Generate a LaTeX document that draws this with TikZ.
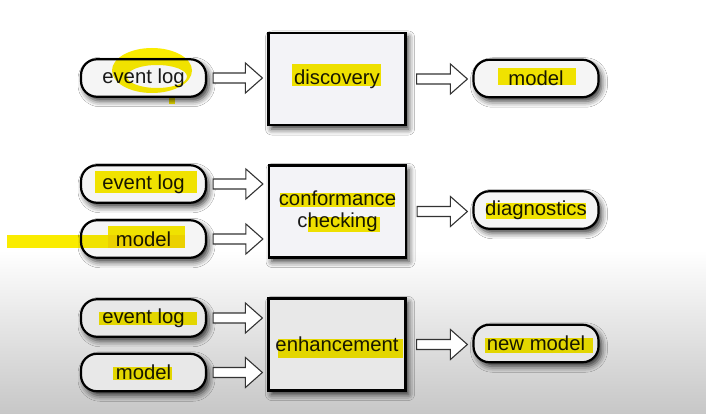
\documentclass[tikz,border=0pt]{standalone}
\usepackage{fontspec}
\setmainfont{Liberation Sans}
\usetikzlibrary{calc,shadows.blur}

\definecolor{hlyellow}{RGB}{250,236,0}
\definecolor{stagefill}{RGB}{243,243,247}

\tikzset{
  pill/.style={draw=black, line width=2.2pt, rounded corners=16pt,
    fill=white!96!black, minimum width=125pt, minimum height=37.5pt,
    text=black!90, font=\fontsize{20.3}{22}\selectfont,
    blur shadow={shadow xshift=3pt, shadow yshift=-4pt,
      shadow blur radius=6pt, shadow opacity=80}},
  stage/.style={pill, rounded corners=0pt, fill=stagefill,
    minimum width=137pt, minimum height=92pt, align=center},
  lowrow/.style={fill=black!9},
  blockarr/.style={draw=black!80, line width=1.1pt, fill=white,
    line join=miter},
  hilite/.style={fill=hlyellow}
}

% hollow block arrow from the node on the left to the node on the right
\newcommand\blockarr[3][6]{%
  \draw[blockarr] let \p1=#2, \p2=#3 in
    (\x1+#1pt,\y1+5pt) -- (\x2-22pt,\y1+5pt) -- (\x2-22pt,\y1+15pt)
    -- (\x2-5pt,\y1) -- (\x2-22pt,\y1-15pt) -- (\x2-22pt,\y1-5pt)
    -- (\x1+#1pt,\y1-5pt) -- cycle;}

\begin{document}
\begin{tikzpicture}[x=1pt,y=-1pt]
  \useasboundingbox (0,0) rectangle (706,414);
  \fill[white] (0,0) rectangle (706,414);
  \shade[top color=white, bottom color=black!22] (0,250) rectangle (706,414);

  % discovery
  \node[pill] (ev1) at (143.5,78) {event log};
  \node[stage] (disc) at (337,79) {discovery};
  \node[pill] (mod1) at (536,78.5) {model};
  \blockarr{(ev1.east)}{(disc.west)}
  \blockarr[10]{(disc.east)}{(mod1.west)}

  % conformance checking
  \node[pill] (ev2) at (143.5,184) {event log};
  \node[pill] (mod2) at (143.5,239) {model};
  \node[stage] (conf) at (337.5,211.5) {conformance\\checking};
  \node[pill] (diag) at (536,210) {diagnostics};
  \blockarr{(ev2.east)}{(conf.west)}
  \blockarr{(mod2.east)}{(conf.west)}
  \blockarr[10]{(conf.east)}{(diag.west)}

  % enhancement
  \node[pill,lowrow] (ev3) at (143.5,318) {event log};
  \node[pill,lowrow] (mod3) at (143.5,372.5) {model};
  \node[stage,lowrow] (enh) at (337,344.5) {enhancement};
  \node[pill,lowrow] (newm) at (536,343.5) {new model};
  \blockarr{(ev3.east)}{(enh.west)}
  \blockarr{(mod3.east)}{(enh.west)}
  \blockarr[10]{(enh.east)}{(newm.west)}

  % marker strokes
  \begin{scope}[blend mode=multiply]
    \fill[hilite, even odd rule] (152,70.5) ellipse [x radius=40, y radius=22.5]
      (157,76.5) ellipse [x radius=30, y radius=11.5];
    \fill[hilite] (169,97) rectangle (175,104);
    \fill[hilite] (292,64) rectangle (381,86);
    \fill[hilite] (498,68) rectangle (576,85);
    \fill[hilite] (95,171) rectangle (197,193);
    \fill[hilite] (7,235) rectangle (185,248);
    \fill[hilite] (108,226) rectangle (185,248);
    \fill[hilite] (280,193) rectangle (395,207);
    \fill[hilite] (308,217) rectangle (380,232);
    \fill[hilite] (486,203) rectangle (586,219);
    \fill[hilite] (99,312) rectangle (197,325);
    \fill[hilite] (113,367) rectangle (172,380);
    \fill[hilite] (278,339) rectangle (403,358);
    \fill[hilite] (485,338) rectangle (593,353);
  \end{scope}
\end{tikzpicture}
\end{document}
